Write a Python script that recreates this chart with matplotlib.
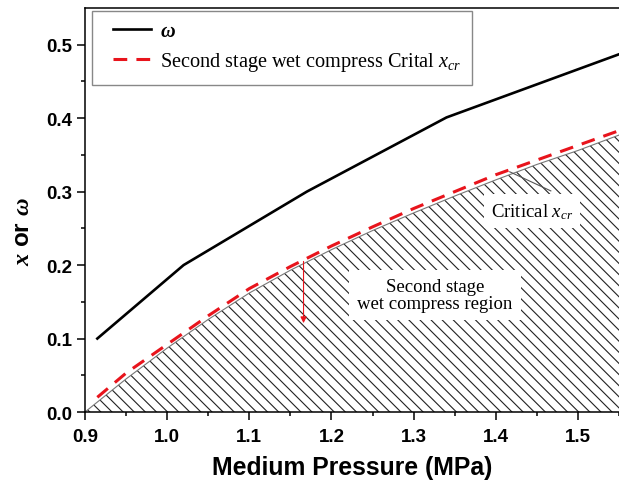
import numpy as np
import matplotlib
matplotlib.use('Agg')
import matplotlib.pyplot as plt
from matplotlib.lines import Line2D
from matplotlib.legend_handler import HandlerLine2D

# fonts: bold sans for axes, Times-like serif for legend and notes
plt.rcParams['font.family'] = 'Liberation Sans'
plt.rcParams['mathtext.fontset'] = 'custom'
plt.rcParams['mathtext.rm'] = 'Liberation Serif'
plt.rcParams['mathtext.it'] = 'Liberation Serif:italic'
plt.rcParams['mathtext.bfit'] = 'Liberation Serif:italic:bold'
plt.rcParams['hatch.linewidth'] = 0.8

# omega curve
p_omega = [0.915, 1.02, 1.17, 1.34, 1.55]
omega = [0.100, 0.200, 0.300, 0.401, 0.487]

# second stage critical x_cr (red dashed)
p_xcr = [0.915, 0.95, 1.0, 1.05, 1.1, 1.15, 1.2, 1.25, 1.3, 1.35, 1.4, 1.45, 1.5, 1.55]
x_cr = [0.020, 0.053, 0.092, 0.131, 0.168, 0.198, 0.226, 0.252, 0.277, 0.300, 0.323, 0.343, 0.363, 0.383]

# upper border of the hatched wet compress region
p_region = [0.9, 0.95, 1.0, 1.05, 1.1, 1.15, 1.2, 1.25, 1.3, 1.35, 1.4, 1.45, 1.5, 1.55]
region_top = [0.0, 0.045, 0.087, 0.126, 0.162, 0.193, 0.221, 0.247, 0.271, 0.294, 0.316, 0.337, 0.356, 0.377]

fig = plt.figure(figsize=(6.19, 4.89), dpi=100)
ax = fig.add_axes([85/619, 1 - 413/489, 1 - 85/619, (413 - 9)/489])

# hatched region + its thin border
ax.fill_between(p_region, 0, region_top, facecolor='none', edgecolor='#222222',
                linewidth=0, hatch='\\\\\\', zorder=1)
ax.plot(p_region, region_top, color='#777777', lw=0.8, zorder=2)

ax.plot(p_omega, omega, color='black', lw=1.9, label=r'$\mathbfit{\omega}$', zorder=4)
ax.plot(p_xcr, x_cr, color='#e8141c', lw=2.2, dashes=(4.5, 3),
        label='Second stage wet compress Crital $x_{cr}$', zorder=4)

# notes on the plot
ax.text(1.444, 0.274, 'Critical $x_{cr}$', fontsize=13.5, family='Liberation Serif',
        ha='center', va='center', zorder=3,
        bbox=dict(facecolor='white', edgecolor='none', pad=5))
ax.plot([1.417, 1.467], [0.327, 0.301], color='#555555', lw=0.8, zorder=3)
ax.text(1.326, 0.159, 'Second stage\nwet compress region', fontsize=13.5,
        family='Liberation Serif', ha='center', va='center', linespacing=1.0, zorder=3,
        bbox=dict(facecolor='white', edgecolor='none', pad=6))
ax.annotate('', xy=(1.166, 0.121), xytext=(1.166, 0.205), zorder=5,
            arrowprops=dict(arrowstyle='-|>', color='#e8141c', lw=0.8,
                            mutation_scale=9, shrinkA=0, shrinkB=0))

ax.set_xlim(0.9, 1.541)
ax.set_ylim(0.0, 0.55)
ax.set_xticks(np.arange(0.9, 1.55, 0.1))
ax.set_xticks(np.arange(0.95, 1.55, 0.1), minor=True)
ax.set_yticks(np.arange(0.0, 0.51, 0.1))
ax.set_yticks(np.arange(0.05, 0.55, 0.1), minor=True)
ax.tick_params(which='major', direction='out', length=5.5, width=1.1, labelsize=13.5)
ax.tick_params(axis='x', which='major', pad=6)
ax.tick_params(axis='y', which='major', pad=4)
ax.tick_params(which='minor', direction='out', length=3, width=1.1)
for lab in ax.get_xticklabels() + ax.get_yticklabels():
    lab.set_fontweight('bold')
ax.spines['right'].set_visible(False)
for s in ['left', 'bottom', 'top']:
    ax.spines[s].set_linewidth(1.1)

ax.set_xlabel('Medium Pressure (MPa)', fontsize=17.8, fontweight='bold', labelpad=7)
ax.set_ylabel(r'$\mathbfit{x}$ or $\mathbfit{\omega}$', fontsize=17.5, fontweight='bold')
ax.yaxis.set_label_coords(-0.096, 0.448)

leg = ax.legend(loc='upper left', bbox_to_anchor=(92/619, 1 - 12/489),
                bbox_transform=fig.transFigure, borderaxespad=0,
                prop={'family': 'Liberation Serif', 'size': 14.6},
                fancybox=False, framealpha=1, edgecolor='#888888',
                handlelength=2.38, handletextpad=0.4, borderpad=0.55, labelspacing=0.45,
                handler_map={Line2D: HandlerLine2D(xpad=0.5)})
leg.get_frame().set_linewidth(1.0)

plt.savefig('out.png', dpi=100)
